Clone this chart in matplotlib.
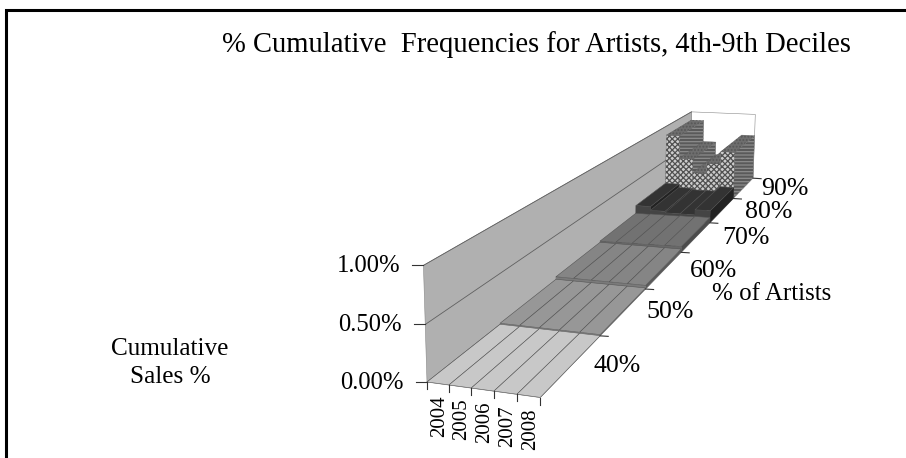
import numpy as np
import matplotlib
matplotlib.use('Agg')
import matplotlib.pyplot as plt
from matplotlib.patches import Polygon

plt.rcParams['font.family'] = ['Liberation Serif', 'DejaVu Serif']
plt.rcParams['hatch.linewidth'] = 0.9

# Chart data
years = ['2004', '2005', '2006', '2007', '2008']
deciles = ['40%', '50%', '60%', '70%', '80%', '90%']
z_ticks = [0.0, 0.5, 1.0]
z_tick_labels = ['0.00%', '0.50%', '1.00%']
heights_40 = [0.002, 0.002, 0.002, 0.002, 0.002]
heights_50 = [0.012, 0.012, 0.012, 0.012, 0.012]
heights_60 = [0.04, 0.04, 0.04, 0.04, 0.04]
heights_70 = [0.055, 0.06, 0.06, 0.065, 0.07]
heights_80 = [0.16, 0.11, 0.09, 0.09, 0.16]
heights_90 = [0.87, 0.54, 0.34, 0.49, 0.67]
all_heights = [heights_40, heights_50, heights_60, heights_70, heights_80, heights_90]

band_colors = ['#c8c8c8', '#979797', '#858585', '#727272', '#333333', '#6e6e6e']
side_colors = ['#a8a8a8', '#6a6a6a', '#5a5a5a', '#4c4c4c', '#222222', '#5a5a5a']
front_colors = ['#c0c0c0', '#8c8c8c', '#7a7a7a', '#686868', '#444444', '#cccccc']
decile_label_dx = [45, 46, 49, 50, 47, 41]

# Camera: matches the chart box corners to the picture's pixels
box_model = [(0, 0, 0), (5, 0, 0), (0, 0, 1), (0, 1, 0), (5, 1, 0), (0, 2, 0), (5, 2, 0),
             (5, 3, 0), (5, 4, 0), (5, 5, 0), (5, 6, 0), (0, 6, 1), (5, 6, 1)]
box_pixel = [(427, 383), (541, 398), (423, 264), (500, 325), (602, 337), (557, 280), (645, 288),
             (678, 252), (710, 223), (733, 198), (754, 178), (691, 112), (756, 115)]

rows = []
for (X, Y, Z), (u, v) in zip(box_model, box_pixel):
    rows.append([X, Y, Z, 1, 0, 0, 0, 0, -u * X, -u * Y, -u * Z, -u])
    rows.append([0, 0, 0, 0, X, Y, Z, 1, -v * X, -v * Y, -v * Z, -v])
camera = np.linalg.svd(np.array(rows, float))[2][-1].reshape(3, 4)


def project(x, y, z):
    p = camera @ np.array([x, y, z, 1.0])
    return p[0] / p[2], p[1] / p[2]


def face(ax, corners, color, edge='#555555', lw=0.4, hatch=None, zorder=2):
    ax.add_patch(Polygon([project(*c) for c in corners], closed=True, facecolor=color,
                         edgecolor=edge, linewidth=lw, hatch=hatch, zorder=zorder))


fig = plt.figure(figsize=(9.06, 4.58), dpi=100)
ax = fig.add_axes([0, 0, 1, 1])
ax.set_xlim(0, 906)
ax.set_ylim(458, 0)
ax.axis('off')

# Outer frame: only left and top show in the crop
ax.plot([5.5, 5.5, 906], [458, 9.5, 9.5], color='black', lw=2.2, solid_joinstyle='miter')

n_x = len(years)
n_y = len(deciles)
z_top = z_ticks[-1]

# Walls
face(ax, [(0, n_y, 0), (n_x, n_y, 0), (n_x, n_y, z_top), (0, n_y, z_top)], 'white', edge='#888888')
face(ax, [(0, 0, 0), (0, n_y, 0), (0, n_y, z_top), (0, 0, z_top)], '#b0b0b0', edge='#888888')
for z in z_ticks:
    xs, ys = zip(project(0, 0, z), project(0, n_y, z))
    ax.plot(xs, ys, color='#606060', lw=0.6, zorder=2)

# Bars, far band first
for j in range(n_y - 1, -1, -1):
    top_band = j == n_y - 1
    for i in range(n_x):
        h = all_heights[j][i]
        front = [(i, j, 0), (i + 1, j, 0), (i + 1, j, h), (i, j, h)]
        right = [(i + 1, j, 0), (i + 1, j + 1, 0), (i + 1, j + 1, h), (i + 1, j, h)]
        top = [(i, j, h), (i + 1, j, h), (i + 1, j + 1, h), (i, j + 1, h)]
        if top_band:
            face(ax, right, side_colors[j], edge='#8c8c8c', lw=0.2, hatch='-----')
            face(ax, front, front_colors[j], edge='#505050', lw=0.2, hatch='xxxxxx')
            face(ax, top, band_colors[j], edge='#575757', lw=0.2, hatch='.....')
        else:
            face(ax, right, side_colors[j], edge=side_colors[j])
            face(ax, front, front_colors[j], edge=front_colors[j])
            face(ax, top, band_colors[j])

# Ticks and tick labels
for z, lab in zip(z_ticks, z_tick_labels):
    u, v = project(0, 0, z)
    ax.plot([u - 11, u], [v, v], color='#333333', lw=0.8)
    ax.text(u - 23, v + 1, lab, ha='right', va='center', fontsize=17.7)

for i in range(n_x + 1):
    u, v = project(i, 0, 0)
    ax.plot([u, u], [v, v + 7], color='#333333', lw=0.8)
for i, lab in enumerate(years):
    u, v = project(i + 0.5, 0, 0)
    ax.text(u + 2, v + 12, lab, ha='center', va='top', rotation=90, fontsize=15)

for j in range(1, n_y + 1):
    u, v = project(n_x, j, 0)
    ax.plot([u, u + 8], [v, v + 0.5], color='#333333', lw=0.8)
for j, lab in enumerate(deciles):
    u, v = project(n_x, j + 0.5, 0)
    ax.text(u + decile_label_dx[j], v + 1.5, lab, ha='center', va='center', fontsize=18.6)

# Titles
ax.text(536, 45, '% Cumulative  Frequencies for Artists, 4th-9th Deciles', ha='center', va='center', fontsize=20.6)
ax.text(772, 294, '% of Artists', ha='center', va='center', fontsize=18)
ax.text(170, 363, 'Cumulative\nSales %', ha='center', va='center', fontsize=18.2, linespacing=1.4)

fig.savefig('out.png', dpi=100)
